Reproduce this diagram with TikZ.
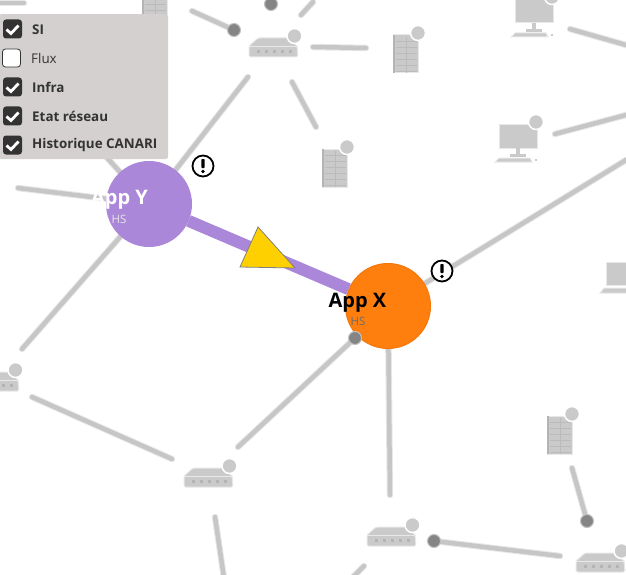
\documentclass[tikz,border=0pt]{standalone}
\usepackage{fontspec}
\setmainfont{Open Sans}
\usetikzlibrary{arrows,backgrounds,calc,positioning,shapes}
\definecolor{lien}{HTML}{C6C6C6}
\definecolor{halo}{HTML}{E8E8E8}
\definecolor{icone}{HTML}{CACACA}
\definecolor{grille}{HTML}{B4B4B4}
\definecolor{sombre}{HTML}{858585}
\definecolor{panneau}{HTML}{D4D0D0}
\definecolor{case}{HTML}{333333}
\definecolor{violet}{HTML}{AB87DA}
\definecolor{orange}{HTML}{FF7F0E}
\definecolor{jaune}{HTML}{FFD000}
\tikzset{
	lienflou/.style={draw=lien, line width=4.5pt, line cap=round, preaction={draw=halo, line width=6.5pt, line cap=round}},
	point/.style={circle, fill=sombre, draw=sombre!50!white, line width=1pt, inner sep=0pt, minimum size=13pt},
	app/.style={circle, inner sep=0pt, minimum size=85pt, line width=1pt},
	alerte/.style={circle, draw=black, fill=white, line width=1.8pt, inner sep=0pt, minimum size=21pt},
	casecoche/.style={rectangle, rounded corners=3pt, fill=case, inner sep=0pt, minimum size=19pt},
	casevide/.style={rectangle, rounded corners=3pt, fill=white, draw=case, line width=.8pt, inner sep=0pt, minimum size=18pt},
	legende/.style={anchor=west, inner sep=0pt, text=case, font=\fontsize{13.4}{15}\selectfont\bfseries},
	statut/.style={fill=icone, draw=white, line width=1.5pt},
	flou/.style={fill=icone, draw=halo, line width=1pt},
	pics/routeur/.style={code={
		\filldraw[flou, rounded corners=1.5pt] (0,20) -- (0,9) -- (9,1) -- (40,1) -- (48,9) -- (49,20) -- cycle;
		\fill[halo] (0,9) rectangle (49,10);
		\foreach \i in {8,16,24,32,40} \fill[grille] (\i,13) rectangle +(2.5,3);
		\filldraw[statut] (45.5,-1) circle (7.5pt);
	}},
	pics/baie/.style={code={
		\filldraw[flou] (0,0) rectangle (25,38);
		\fill[grille] (0,0) rectangle (2,38);
		\foreach \i in {6,12,...,36} \fill[grille!70!icone] (3,\i) rectangle (24,\i+.8);
		\fill[grille!70!icone] (13,2) rectangle (13.8,38);
		\filldraw[statut] (25,-2) circle (7.5pt);
	}},
	pics/poste/.style={code={
		\filldraw[flou] (0,0) rectangle (38,23);
		\fill[icone] (17,23) rectangle (21,30);
		\fill[icone] (11,29) rectangle (27,32);
		\filldraw[flou] (-4,37) -- (0,33) -- (31,33) -- (33,37) -- cycle;
		\fill[icone] (36,34) rectangle (38,36);
		\filldraw[statut] (37,-3) circle (7.5pt);
	}},
}

\begin{document}
\begin{tikzpicture}[x=1pt,y=-1pt]
	\useasboundingbox (0,0) rectangle (626,575);

	% Place nodes
	\node [app, fill=violet, draw=violet] (appy) at (149,204) {};
	\node [app, fill=orange, draw=orange!95!black] (appx) at (388,306) {};
	\node [alerte] (alertey) at (203,166) {};
	\node [alerte] (alertex) at (442,271) {};
	\node [point] (pointa) at (234,30) {};
	\node [point] (pointb) at (271,4) {};
	\node [point] (pointc) at (355,338) {};
	\node [point] (pointd) at (434,541) {};
	\node [point] (pointe) at (587,521) {};

	% Free ends of the links
	\foreach \nom/\px/\py in {a1/192/11,b1/301/15,b2/313/2,c1/313/47,c2/366/48,
		d1/248/77,e1/292/82,e2/316/127,f1/570/29,f2/626/45,
		g1/555/134,g2/626/115,h2/626/160,i1/100/150,j1/18/188,
		k1/22/349,l1/32/397,l2/172/459,m1/238/447,n1/215/517,
		n2/224/578,o2/390/495,p2/560/556,q1/572/468,r1/364/566,
		r2/352/578,s1/0/3,s2/24/3}
		\coordinate (\nom) at (\px,\py);

	% Draw edges
	\begin{scope}[on background layer]
		\foreach \a/\b in {a1/pointa,b1/b2,c1/c2,d1/appy,e1/e2,f1/f2,g1/g2,h2/appx,i1/appy,
			j1/appy,k1/appy,l1/l2,m1/pointc,n1/n2,appx/o2,pointd/p2,q1/pointe,r1/r2,s1/s2}
			\draw [lienflou] (\a) -- (\b);
	\end{scope}
	\draw [line width=12pt, draw=violet] (appy) -- (appx);

	% Arrow on the link
	\coordinate (tetea) at (258,227);
	\coordinate (teteb) at (240,267);
	\coordinate (tetec) at (295,268);
	\draw [fill=jaune, draw=gray, line width=.8pt] (tetea) -- (teteb) -- (tetec) -- cycle;

	% Icons
	\pic (routeura) at (249,37) {routeur};
	\pic (routeurb) at (-30,371) {routeur};
	\pic (routeurc) at (184,467) {routeur};
	\pic (routeurd) at (367,526) {routeur};
	\pic (routeure) at (576,552) {routeur};
	\pic (baiea) at (393,35) {baie};
	\pic (baieb) at (322,149) {baie};
	\pic (baiec) at (547,416) {baie};
	\pic (baied) at (142,-20) {baie};
	\pic (postea) at (515,0) {poste};
	\pic (posteb) at (499,125) {poste};
	\filldraw [flou] (606,262) rectangle (628,285);
	\filldraw [flou] (600,293) -- (604,288) -- (628,288) -- (628,293) -- cycle;

	% Panel
	\node [rectangle, rounded corners=3pt, fill=panneau, minimum width=170pt, minimum height=145pt,
		inner sep=0pt, anchor=north west] (panneau) at (-2,14) {};
	\foreach \nom/\py/\txt in {si/29/SI,infra/87/Infra,etat/116/Etat réseau,canari/145/Historique CANARI}{
		\node [casecoche] (case\nom) at (12.5,\py) {};
		\draw [white, line width=2.8pt] ($(case\nom)+(-6,.5)$) -- ($(case\nom)+(-1.5,4.5)$) -- ($(case\nom)+(6,-3.5)$);
		\node [legende] (txt\nom) at (32,\py+.5) {\txt};
	}
	\node [casevide] (caseflux) at (11.5,58) {};
	\node [legende, font=\fontsize{13.4}{15}\selectfont] (txtflux) at (31,58.5) {Flux};

	% Labels
	\node [text=white, inner sep=0pt, font=\fontsize{20}{22}\selectfont\bfseries] (nomy) at (119.5,200) {App Y};
	\node [text=white!80!gray, inner sep=0pt, font=\fontsize{11.5}{13}\selectfont] (hsy) at (119,219) {HS};
	\node [text=black, inner sep=0pt, font=\fontsize{20}{22}\selectfont\bfseries] (nomx) at (357.5,303) {App X};
	\node [text=gray!85!black, inner sep=0pt, font=\fontsize{11.5}{13}\selectfont] (hsx) at (358,321) {HS};
	\foreach \alerte in {alertey,alertex}{
		\fill [black, rounded corners=.8pt] ($(\alerte)+(-1.6,-7)$) rectangle ($(\alerte)+(1.6,2)$);
		\fill [black] ($(\alerte)+(0,5.5)$) circle (1.9pt);
	}
\end{tikzpicture}
\end{document}
